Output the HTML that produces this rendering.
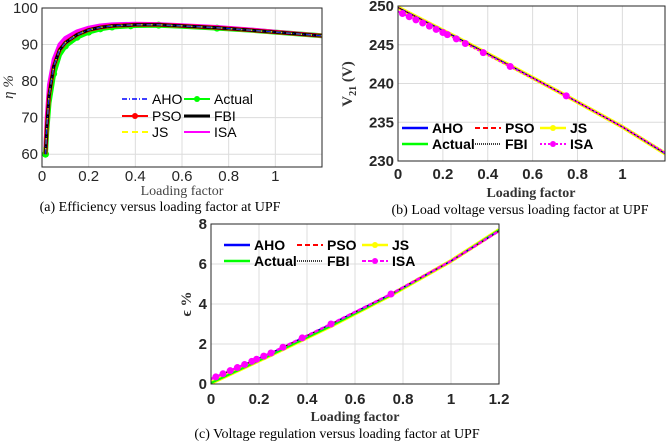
<!DOCTYPE html>
<html><head><meta charset="utf-8"><style>
body{margin:0;background:#fff;width:669px;height:441px;overflow:hidden}
svg{display:block}
</style></head><body>
<svg id="s" width="669" height="441" xmlns="http://www.w3.org/2000/svg"></svg>
<script>
// ---- data ----
const effX=[0.015,0.02,0.03,0.05,0.075,0.1,0.15,0.2,0.25,0.3,0.4,0.5,0.6,0.75,0.9,1.0,1.2];
const effY=[60,67,76,84,88.5,90.5,92.7,94,94.7,95.1,95.4,95.4,95.1,94.6,93.9,93.4,92.4];
const effIsaY=[62,70,79,86,90,91.8,93.6,94.6,95.2,95.5,95.7,95.6,95.3,94.8,94.1,93.5,92.4];
const effActY=[60,66,74,82,87.2,89.6,92,93.4,94.3,94.8,95.2,95.3,95.0,94.5,93.9,93.4,92.4];
const effMarkX=[0.015,0.05,0.1,0.15,0.2,0.25,0.3,0.38,0.5,0.75];
const volX=[0,0.25,0.5,0.75,1,1.2];
const volY=[249.8,246.1,242.3,238.4,234.4,230.8];
const volIsaY=[249.3,245.9,242.2,238.4,234.4,230.9];
const volMarkX=[0.02,0.05,0.08,0.11,0.14,0.17,0.2,0.22,0.26,0.3,0.38,0.5,0.75];
const regX=[0,0.25,0.5,0.75,1,1.2];
const regY=[0.05,1.45,2.9,4.45,6.15,7.7];
const regIsaY=[0.25,1.55,3.0,4.5,6.15,7.65];
const regMarkX=[0.02,0.05,0.08,0.11,0.14,0.17,0.19,0.22,0.25,0.3,0.38,0.5,0.75];
const xTicksA=[0,0.2,0.4,0.6,0.8,1];
const yTicksA=[60,70,80,90,100];
const yTicksB=[230,235,240,245,250];
const xTicksC=[0,0.2,0.4,0.6,0.8,1,1.2];
const yTicksC=[0,2,4,6,8];

const S=document.getElementById('s');const NS='http://www.w3.org/2000/svg';
function el(t,a,p){const e=document.createElementNS(NS,t);for(const k in a)e.setAttribute(k,a[k]);(p||S).appendChild(e);return e;}
function interp(xs,ys,x){for(let i=0;i<xs.length-1;i++){if(x<=xs[i+1]){const t=(x-xs[i])/(xs[i+1]-xs[i]);return ys[i]+t*(ys[i+1]-ys[i]);}}return ys[ys.length-1];}

function chart(c){
  const g=el('g',{});
  
  
  const X=v=>c.l+(v-c.x0)/(c.x1-c.x0)*(c.r-c.l);
  const Y=v=>c.b-(v-c.y0)/(c.y1-c.y0)*(c.b-c.t);
  el('rect',{x:c.l,y:c.t,width:c.r-c.l,height:c.b-c.t,fill:'#fff'},g);
  const fw=c.bold?'bold':'normal';
  c.xt.forEach(v=>{const gl=el('line',{x1:X(v),x2:X(v),y1:c.t,y2:c.b,stroke:'#dcdcdc','stroke-width':1},g);
    
    const t=el('text',{x:X(v),y:c.b+c.to,'text-anchor':'middle','font-family':'Liberation Sans,sans-serif','font-size':15,'font-weight':fw,fill:'#262626'},g);t.textContent=v;
    });
  c.yt.forEach(v=>{el('line',{x1:c.l,x2:c.r,y1:Y(v),y2:Y(v),stroke:'#dcdcdc','stroke-width':1},g);
    const t=el('text',{x:c.l-4,y:Y(v)+5,'text-anchor':'end','font-family':'Liberation Sans,sans-serif','font-size':15,'font-weight':fw,fill:'#262626'},g);t.textContent=v;
    });
  const clip='c'+c.name;const cp=el('clipPath',{id:clip},g);el('rect',{x:c.l,y:c.t,width:c.r-c.l,height:c.b-c.t},cp);
  const pg=el('g',{'clip-path':'url(#'+clip+')'},g);
  c.series.forEach(s=>{
    const pts=s.x.map((v,i)=>X(v).toFixed(1)+','+Y(s.y[i]).toFixed(1)).join(' ');
    const p=el('polyline',{points:pts,fill:'none',stroke:s.c,'stroke-width':s.w,'stroke-dasharray':s.d||'none','stroke-linejoin':'round'},pg);
    
    if(s.m){s.m.forEach(mx=>{const my=interp(s.x,s.y,mx);
      const m=el('circle',{cx:X(mx),cy:Y(my),r:s.mr||3,fill:s.c},pg);
      });}
  });
  el('rect',{x:c.l,y:c.t,width:c.r-c.l,height:c.b-c.t,fill:'none',stroke:'#262626','stroke-width':1},g);
  c.leg.forEach(e=>{
    const ln=el('line',{x1:e.x,x2:e.x+26,y1:e.y,y2:e.y,stroke:e.c,'stroke-width':e.w,'stroke-dasharray':e.d||'none'},g);
    
    if(e.m)el('circle',{cx:e.x+13,cy:e.y,r:3,fill:e.c},g);
    const t=el('text',{x:e.x+30,y:e.y+5,'font-family':'Liberation Sans,sans-serif','font-size':14,'font-weight':fw,fill:'#000'},g);t.textContent=e.n;
    
  });
  return {X,Y};
}

chart({name:'efficiency-chart',l:42,r:322,t:8,b:167,to:14,x0:0,x1:1.2,y0:56.5,y1:100,xt:xTicksA,yt:yTicksA,bold:false,
 series:[
  {n:'actual',x:effX,y:effActY,c:'#00ff00',w:5,m:effMarkX,mr:3.5},
  {n:'isa',x:effX,y:effIsaY,c:'#ff00ff',w:4},
  {n:'pso',x:effX,y:effY,c:'#ff0000',w:4},
  {n:'fbi',x:effX,y:effY,c:'#000',w:3},
  {n:'js',x:effX,y:effY,c:'#ffff00',w:1.5,d:'6,4'},
  {n:'aho',x:effX,y:effY,c:'#0000ff',w:1,d:'5,2,1,2'}],
 leg:[{n:'AHO',x:122,y:99,c:'#0000ff',w:1.5,d:'5,2,1,2'},{n:'Actual',x:184,y:99,c:'#00ff00',w:2,m:1},
      {n:'PSO',x:122,y:116,c:'#ff0000',w:2,m:1},{n:'FBI',x:184,y:116,c:'#000',w:3},
      {n:'JS',x:122,y:132,c:'#ffff00',w:2,d:'6,4'},{n:'ISA',x:184,y:132,c:'#ff00ff',w:2}]});

chart({name:'voltage-chart',l:398,r:665,t:6,b:161,to:18,x0:0,x1:1.19,y0:230,y1:250,xt:xTicksA,yt:yTicksB,bold:true,
 series:[
  {n:'actual',x:volX,y:volY,c:'#00ff00',w:2},
  {n:'js',x:volX,y:volY,c:'#ffff00',w:4},
  {n:'aho',x:volX,y:volY,c:'#0000ff',w:1.5},
  {n:'pso',x:volX,y:volY,c:'#ff0000',w:1,d:'5,3'},
  {n:'fbi',x:volX,y:volY,c:'#000',w:1,d:'1,1'},
  {n:'isa',x:volX,y:volIsaY,c:'#ff00ff',w:2,d:'2,2',m:volMarkX,mr:3.5}],
 leg:[{n:'AHO',x:402,y:128,c:'#0000ff',w:2.5},{n:'PSO',x:475,y:128,c:'#ff0000',w:2,d:'5,3'},{n:'JS',x:540,y:128,c:'#ffff00',w:2.5,m:1},
      {n:'Actual',x:402,y:144,c:'#00ff00',w:2.5},{n:'FBI',x:475,y:144,c:'#000',w:1.5,d:'1,1'},{n:'ISA',x:540,y:144,c:'#ff00ff',w:2,d:'2,2',m:1}]});

chart({name:'regulation-chart',l:211,r:499,t:224,b:384,to:20,x0:0,x1:1.2,y0:0,y1:8,xt:xTicksC,yt:yTicksC,bold:true,
 series:[
  {n:'js',x:regX,y:regY,c:'#ffff00',w:4},
  {n:'actual',x:regX,y:regY,c:'#00ff00',w:2},
  {n:'aho',x:regX,y:regIsaY,c:'#0000ff',w:1.5},
  {n:'pso',x:regX,y:regIsaY,c:'#ff0000',w:1,d:'5,3'},
  {n:'fbi',x:regX,y:regIsaY,c:'#000',w:1,d:'1,1'},
  {n:'isa',x:regX,y:regIsaY,c:'#ff00ff',w:2.5,d:'4,2',m:regMarkX,mr:3.5}],
 leg:[{n:'AHO',x:224,y:245,c:'#0000ff',w:2.5},{n:'PSO',x:297,y:245,c:'#ff0000',w:2,d:'5,3'},{n:'JS',x:362,y:245,c:'#ffff00',w:2.5,m:1},
      {n:'Actual',x:224,y:261,c:'#00ff00',w:2.5},{n:'FBI',x:297,y:261,c:'#000',w:1.5,d:'1,1'},{n:'ISA',x:362,y:261,c:'#ff00ff',w:2,d:'4,2',m:1}]});

function txt(s,a,name){const t=el('text',Object.assign({'font-family':'Liberation Serif,serif',fill:'#000'},a));t.textContent=s;
 return t;}
txt('Loading factor',{x:182,y:195,'text-anchor':'middle','font-size':14,fill:'#444'},'x-axis-title-a');
txt('(a) Efficiency versus loading factor at UPF',{x:160,y:211,'text-anchor':'middle','font-size':14},'caption-a');
txt('Loading factor',{x:531,y:197,'text-anchor':'middle','font-size':14,'font-weight':'bold',fill:'#333'},'x-axis-title-b');
txt('(b) Load voltage versus loading factor at UPF',{x:520,y:214,'text-anchor':'middle','font-size':14},'caption-b');
txt('Loading factor',{x:355,y:421,'text-anchor':'middle','font-size':14,'font-weight':'bold',fill:'#333'},'x-axis-title-c');
txt('(c) Voltage regulation versus loading factor at UPF',{x:337,y:438,'text-anchor':'middle','font-size':14},'caption-c');
txt('η %',{x:0,y:0,'text-anchor':'middle','font-size':15,'font-style':'italic',fill:'#333',transform:'translate(13,87) rotate(-90)'},'y-axis-title-a');
const yb=txt('',{x:0,y:0,'text-anchor':'middle','font-size':15,'font-weight':'bold',fill:'#333',transform:'translate(352,84) rotate(-90)'},'y-axis-title-b');
yb.innerHTML='V<tspan font-size="10" dy="4">21</tspan><tspan dy="-4"> (V)</tspan>';
txt('ϵ %',{x:0,y:0,'text-anchor':'middle','font-size':15,'font-weight':'bold',fill:'#333',transform:'translate(191,304) rotate(-90)'},'y-axis-title-c');
</script>
</body></html>
